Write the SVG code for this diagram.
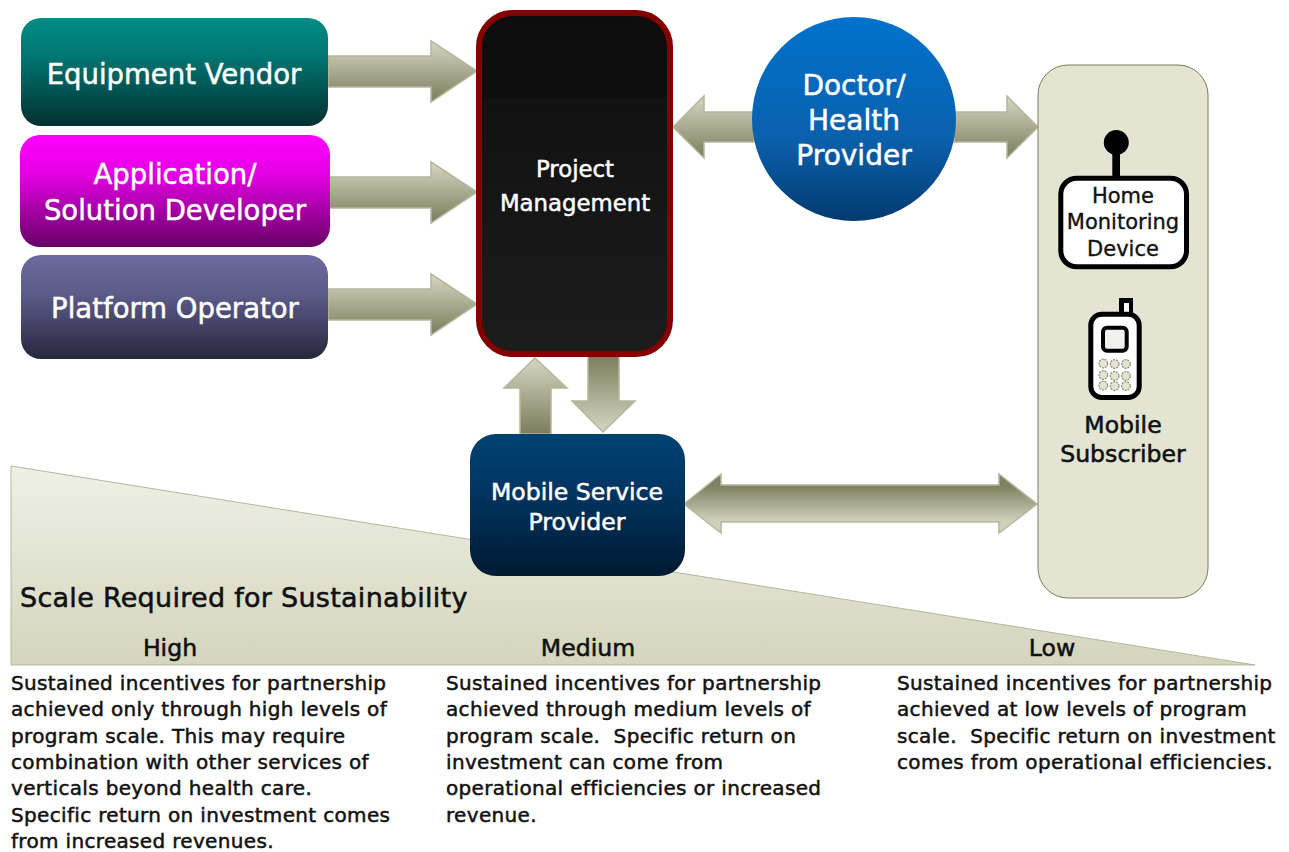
<svg xmlns="http://www.w3.org/2000/svg" width="1289" height="852" viewBox="0 0 1289 852">
<style>
text{font-family:"DejaVu Sans","Noto Sans",sans-serif;text-anchor:middle;white-space:pre}
.w{fill:#fff;stroke:#fff;stroke-width:.5}
.a{stroke:#b5b79c;stroke-width:1.5}
.n{font-size:27.500px}
.o{font-size:28px}
.m{font-size:22.800px}
.s{font-size:23.600px}
.b{fill:#111;font-size:23.600px;stroke:#111;stroke-width:.55}
.h{fill:#111;font-size:21px;stroke:#111;stroke-width:.35}
.d{font-size:20px;letter-spacing:.33px;fill:#111;text-anchor:start;stroke:#111;stroke-width:.5}
.t{text-anchor:start;font-size:27px;letter-spacing:.28px;stroke:#111;stroke-width:.55;fill:#111}
.key{fill:#e3e4d6;stroke:#8a8c66;stroke-width:1.200;stroke-dasharray:2 1}
</style>
<defs>
<linearGradient id="g1" x1="0" y1="0" x2="0" y2="1"><stop offset="0" stop-color="#008c84"/><stop offset=".35" stop-color="#007672"/><stop offset="1" stop-color="#02302f"/></linearGradient>
<linearGradient id="g2" x1="0" y1="0" x2="0" y2="1"><stop offset="0" stop-color="#ff00ff"/><stop offset=".35" stop-color="#e400e4"/><stop offset="1" stop-color="#660066"/></linearGradient>
<linearGradient id="g3" x1="0" y1="0" x2="0" y2="1"><stop offset="0" stop-color="#6c6a9e"/><stop offset=".35" stop-color="#5f5d8c"/><stop offset="1" stop-color="#28273e"/></linearGradient>
<linearGradient id="g4" x1="0" y1="0" x2="0" y2="1"><stop offset="0" stop-color="#0d0d0d"/><stop offset=".25" stop-color="#0e0e0e"/><stop offset=".25" stop-color="#111"/><stop offset="1" stop-color="#1c1c1c"/></linearGradient>
<linearGradient id="g5" x1="0" y1="0" x2="0" y2="1"><stop offset="0" stop-color="#0072ce"/><stop offset=".6" stop-color="#0a60ac"/><stop offset="1" stop-color="#023a70"/></linearGradient>
<linearGradient id="g6" x1="0" y1="0" x2="0" y2="1"><stop offset="0" stop-color="#004272"/><stop offset=".4" stop-color="#003562"/><stop offset="1" stop-color="#001a30"/></linearGradient>
<linearGradient id="ad" x1="0" y1="0" x2="0" y2="1"><stop offset="0" stop-color="#d6d7c3"/><stop offset="1" stop-color="#7b7d5c"/></linearGradient>
<linearGradient id="au" x1="0" y1="1" x2="0" y2="0"><stop offset="0" stop-color="#d6d7c3"/><stop offset="1" stop-color="#7b7d5c"/></linearGradient>
<linearGradient id="au2" x1="0" y1="0" x2="0" y2="1"><stop offset=".2" stop-color="#7f8162"/><stop offset=".8" stop-color="#d0d1bc"/></linearGradient>
<linearGradient id="tri" x1="0" y1="0" x2="0" y2="1"><stop offset="0" stop-color="#eff0e6"/><stop offset="1" stop-color="#d3d5bc"/></linearGradient>
</defs>
<path id="scale-wedge" d="M11 466L1255 665H11Z" fill="url(#tri)" stroke="#b5b79c"/>
<g id="connectors">
<path class="a" fill="url(#ad)" d="M328 56H431V41L477 71L431 102V87H328Z"/>
<path class="a" fill="url(#ad)" d="M328 177H431V162L477 192L431 223V208H328Z"/>
<path class="a" fill="url(#ad)" d="M328 289H431V274L477 304L431 335V320H328Z"/>
<path class="a" fill="url(#ad)" d="M754 112H704V96L673 127L704 158V142H754Z"/>
<path class="a" fill="url(#ad)" d="M954 112H1007V96L1038 127L1007 158V142H954Z"/>
<path class="a" fill="url(#ad)" d="M520 434V388H504L535 358L567 388H551V434Z"/>
<path class="a" fill="url(#au)" d="M588 356V401H572L603 432L635 401H619V356Z"/>
<path class="a" fill="url(#au2)" d="M684 504L721 474V485H999V474L1037 504L999 533V522H721V533Z"/>
</g>
<g id="equipment-vendor"><rect x="21" y="18" width="307" height="108" rx="20" fill="url(#g1)"/><text class="w n" x="174" y="84">Equipment Vendor</text></g>
<g id="application-developer"><rect x="20" y="135" width="310" height="112" rx="20" fill="url(#g2)"/><text class="w n" x="175" y="184">Application/</text><text class="w n" x="175" y="220">Solution Developer</text></g>
<g id="platform-operator"><rect x="21" y="255" width="307" height="104" rx="20" fill="url(#g3)"/><text class="w n" x="175" y="318">Platform Operator</text></g>
<g id="project-management"><rect x="479" y="13" width="191" height="341" rx="34" fill="url(#g4)" stroke="#840000" stroke-width="6"/><text class="w m" x="575" y="177">Project</text><text class="w m" x="575" y="211">Management</text></g>
<g id="doctor-provider"><circle cx="854" cy="119" r="102" fill="url(#g5)"/><text class="w o" x="854" y="95">Doctor/</text><text class="w o" x="854" y="130">Health</text><text class="w o" x="854" y="165">Provider</text></g>
<g id="mobile-service-provider"><rect x="470" y="434" width="215" height="142" rx="26" fill="url(#g6)"/><text class="w s" x="577" y="500">Mobile Service</text><text class="w s" x="577" y="530">Provider</text></g>
<g id="mobile-subscriber">
<rect x="1038" y="65" width="170" height="533" rx="30" fill="#e3e4d2" stroke="#7b7d5c" stroke-width="1"/>
<circle cx="1116.300" cy="142.500" r="12.500"/><rect x="1112.300" y="150" width="7.700" height="30"/>
<rect x="1060.800" y="178.200" width="125.700" height="88.600" rx="16" fill="#fff" stroke="#000" stroke-width="5"/>
<text class="h" x="1123" y="203">Home</text><text class="h" x="1123" y="229">Monitoring</text><text class="h" x="1123" y="256">Device</text>
<rect x="1119" y="298" width="14" height="18"/><rect x="1124" y="303" width="5" height="9" fill="#fff"/>
<rect x="1090.800" y="314.200" width="48.400" height="83.300" rx="11" fill="#fff" stroke="#000" stroke-width="5"/>
<rect x="1103" y="327.700" width="23.700" height="23" rx="4" fill="#f0f0ee" stroke="#000" stroke-width="4"/>
<g class="key"><circle cx="1103.300" cy="363.500" r="4.300"/><circle cx="1114.700" cy="364" r="4.300"/><circle cx="1126" cy="364" r="4.300"/><circle cx="1103.300" cy="375" r="4.300"/><circle cx="1114.700" cy="376" r="4.300"/><circle cx="1126" cy="376" r="4.300"/><circle cx="1103.300" cy="385.500" r="4.300"/><circle cx="1114.700" cy="386" r="4.300"/><circle cx="1126" cy="386" r="4.300"/></g>
<text class="b" x="1123" y="433">Mobile</text><text class="b" x="1123" y="462">Subscriber</text>
</g>
<text class="t" x="20" y="607">Scale Required for Sustainability</text>
<text class="b" x="170" y="656">High</text><text class="b" x="588" y="656">Medium</text><text class="b" x="1052" y="656">Low</text>
<text class="d"><tspan x="11" y="690">Sustained incentives for partnership</tspan><tspan x="11" y="716">achieved only through high levels of</tspan><tspan x="11" y="743">program scale. This may require</tspan><tspan x="11" y="769">combination with other services of</tspan><tspan x="11" y="795">verticals beyond health care.</tspan><tspan x="11" y="822">Specific return on investment comes</tspan><tspan x="11" y="848">from increased revenues.</tspan></text>
<text class="d"><tspan x="446" y="690">Sustained incentives for partnership</tspan><tspan x="446" y="716">achieved through medium levels of</tspan><tspan x="446" y="743">program scale.  Specific return on</tspan><tspan x="446" y="769">investment can come from</tspan><tspan x="446" y="795">operational efficiencies or increased</tspan><tspan x="446" y="822">revenue.</tspan></text>
<text class="d"><tspan x="897" y="690">Sustained incentives for partnership</tspan><tspan x="897" y="716">achieved at low levels of program</tspan><tspan x="897" y="743">scale.  Specific return on investment</tspan><tspan x="897" y="769">comes from operational efficiencies.</tspan></text>
</svg>
